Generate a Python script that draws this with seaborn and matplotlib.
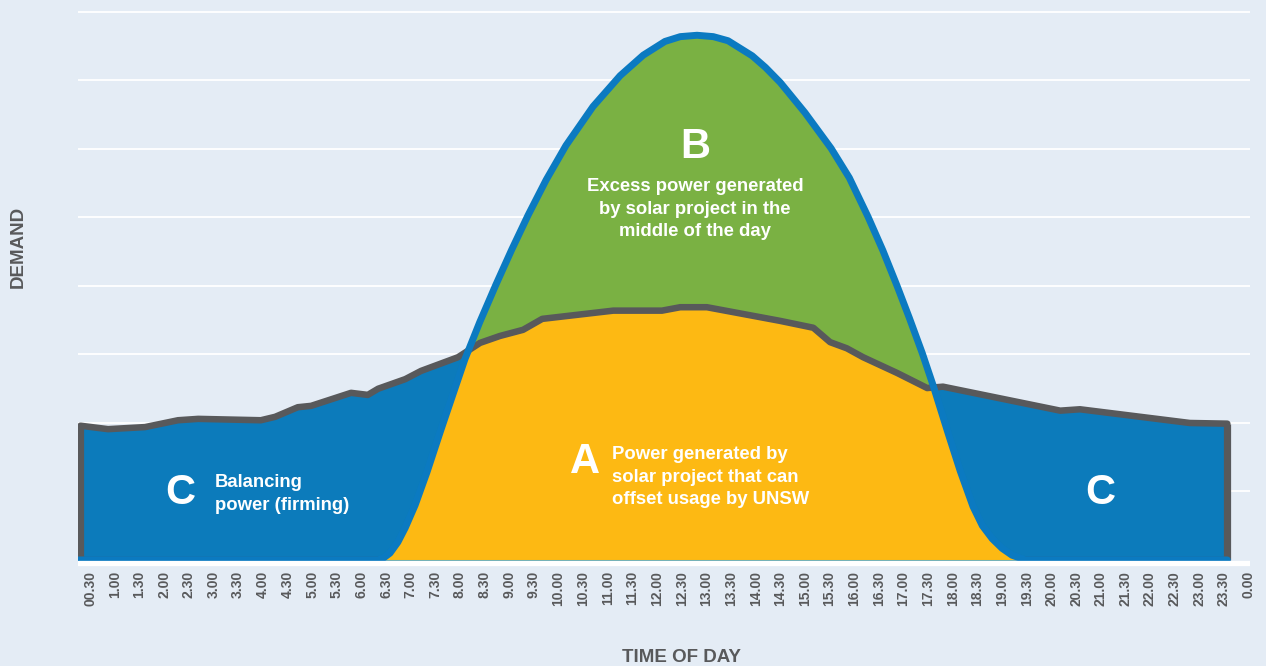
import numpy as np
import matplotlib
matplotlib.use("Agg")
import matplotlib.pyplot as plt
import seaborn as sns

# ---------------- data ----------------
tick_labels = ["00.30", "1.00", "1.30", "2.00", "2.30", "3.00", "3.30", "4.00",
               "4.30", "5.00", "5.30", "6.00", "6.30", "7.00", "7.30", "8.00",
               "8.30", "9.00", "9.30", "10.00", "10.30", "11.00", "11.30", "12.00",
               "12.30", "13.00", "13.30", "14.00", "14.30", "15.00", "15.30", "16.00",
               "16.30", "17.00", "17.30", "18.00", "18.30", "19.00", "19.30", "20.00",
               "20.30", "21.00", "21.30", "22.00", "22.30", "23.00", "23.30", "0.00"]

demand_hours = [0.30, 0.86, 1.61, 2.28, 2.69, 3.96, 4.25, 4.71, 4.98, 5.79, 6.13,
                6.34, 6.89, 7.21, 7.96, 8.41, 8.81, 9.28, 9.67, 11.11, 12.10, 12.47,
                13.01, 14.50, 15.17, 15.51, 15.85, 16.18, 16.87, 17.48, 17.80, 20.18,
                20.58, 22.81, 23.57]
demand_values = [1.96, 1.91, 1.94, 2.04, 2.06, 2.04, 2.09, 2.23, 2.25, 2.44, 2.41,
                 2.50, 2.64, 2.76, 2.96, 3.17, 3.27, 3.36, 3.52, 3.64, 3.64, 3.69,
                 3.69, 3.49, 3.39, 3.18, 3.09, 2.96, 2.73, 2.51, 2.53, 2.18,
                 2.20, 2.00, 1.99]

solar_hours = [0.25, 6.34, 6.45, 6.58, 6.74, 6.89, 7.09, 7.33, 7.60, 7.84, 8.10,
               8.40, 8.73, 9.05, 9.38, 9.75, 10.15, 10.70, 11.25, 11.72, 12.16,
               12.47, 12.81, 13.14, 13.44, 13.93, 14.20, 14.50, 15.00, 15.53, 15.90,
               16.28, 16.58, 16.87, 17.12, 17.38, 17.60, 17.90, 18.15, 18.41, 18.60,
               18.80, 19.00, 19.20, 19.47, 23.57]
solar_values = [0.00, 0.00, 0.03, 0.10, 0.26, 0.47, 0.80, 1.28, 1.87, 2.38, 2.93,
                3.47, 4.02, 4.53, 5.03, 5.55, 6.05, 6.62, 7.07, 7.37, 7.57,
                7.64, 7.66, 7.64, 7.58, 7.36, 7.19, 6.97, 6.53, 6.01, 5.58,
                5.01, 4.52, 4.00, 3.53, 3.02, 2.55, 1.86, 1.30, 0.78, 0.50,
                0.31, 0.17, 0.07, 0.00, 0.00]

# ---------------- style ----------------
BG = "#e4ecf5"
BLUE = "#0c7bbb"
BLUE_LINE = "#0b7ac1"
YELLOW = "#fdb913"
GREEN = "#7ab143"
GRAY = "#58595b"

sns.set_theme(style="white")
plt.rcParams["font.family"] = ["Liberation Sans", "DejaVu Sans"]

fig = plt.figure(figsize=(12.66, 6.66), dpi=100, facecolor=BG)
ax = fig.add_axes([0.06161, 0.1489, 0.92575, 0.8434])
ax.set_facecolor(BG)

# areas
ax.fill_between(solar_hours, 0, solar_values, color=GREEN, lw=0, zorder=1)
blue_area = ax.fill_between(demand_hours, 0, demand_values, color=BLUE, lw=0, zorder=2)
ax.hlines(0.05, demand_hours[0], demand_hours[-1], color="#3f5566", lw=1.0, zorder=2.5)
yellow_area = ax.fill_between(solar_hours, 0, solar_values, color=YELLOW, lw=0, zorder=3)
yellow_area.set_clip_path(blue_area.get_paths()[0], ax.transData)

# demand outline
sns.lineplot(x=demand_hours, y=demand_values, ax=ax, color=GRAY, lw=4.7,
             estimator=None, sort=False, zorder=4)
ax.vlines([demand_hours[0], demand_hours[-1]], 0,
          [demand_values[0], demand_values[-1]], color=GRAY, lw=5.2, zorder=4)

# solar line
sns.lineplot(x=solar_hours, y=solar_values, ax=ax, color=BLUE_LINE, lw=5.0,
             estimator=None, sort=False, zorder=5)

# white baseline
ax.axhline(-0.05, color="white", lw=3.8, zorder=6)

# axes
ax.set_xlim(0.25, 24.03)
ax.set_ylim(-0.1, 8.1)
ax.set_yticks(np.arange(1, 9))
ax.set_yticklabels([])
ax.yaxis.grid(True, color="white", lw=1.3)
ax.xaxis.grid(False)
ax.set_axisbelow(True)
for s in ax.spines.values():
    s.set_visible(False)

tick_hours = np.arange(0.5, 24.01, 0.5)
ax.set_xticks(tick_hours)
ax.set_xticklabels(tick_labels, rotation=90, fontsize=10, fontweight="bold",
                   color=GRAY, va="top", ha="center")
ax.tick_params(axis="x", length=0, pad=3)
ax.tick_params(axis="y", length=0)
ax.set_xlabel("")
ax.set_ylabel("")

fig.text(682 / 1266, 1 - 657 / 666, "TIME OF DAY", ha="center", va="center",
         fontsize=13.5, fontweight="bold", color=GRAY)
fig.text(18 / 1266, 1 - 247 / 666, "DEMAND", ha="center", va="center",
         rotation=90, fontsize=13.5, fontweight="bold", color=GRAY)

# annotations (pixel positions converted to figure fractions)
def ftxt(x, y, s, **kw):
    fig.text(x / 1266, 1 - y / 666, s, color="white", fontweight="bold", zorder=10, **kw)

BIG = 30
BODY = 13.3
ftxt(695, 147, "B", fontsize=BIG, ha="center", va="center")
ftxt(695, 209, "Excess power generated\nby solar project in the\nmiddle of the day",
     fontsize=BODY, ha="center", va="center", linespacing=1.45)
ftxt(585, 462, "A", fontsize=BIG, ha="center", va="center")
ftxt(612, 477, "Power generated by\nsolar project that can\noffset usage by UNSW",
     fontsize=BODY, ha="left", va="center", linespacing=1.45)
ftxt(180, 493, "C", fontsize=BIG, ha="center", va="center")
ftxt(215, 494, "Balancing\npower (firming)", fontsize=BODY, ha="left", va="center",
     linespacing=1.45)
ftxt(1100, 493, "C", fontsize=BIG, ha="center", va="center")

fig.savefig("out.png", dpi=100, facecolor=BG)
